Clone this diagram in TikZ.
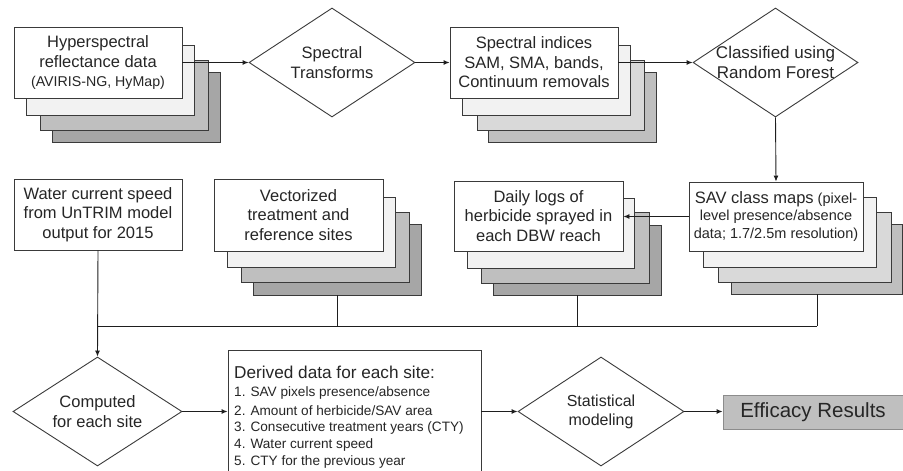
\documentclass[tikz,border=0pt]{standalone}
\usepackage{fontspec}
\setmainfont{Liberation Sans}
\usetikzlibrary{shapes.geometric,arrows.meta}
\definecolor{bordc}{HTML}{3A3A3A}
\definecolor{linec}{HTML}{1E1E1E}
\definecolor{txtc}{HTML}{262626}
\definecolor{gA}{HTML}{F2F2F2}
\definecolor{gB}{HTML}{BFBFBF}
\definecolor{gC}{HTML}{A6A6A6}
\definecolor{gD}{HTML}{D9D9D9}
\definecolor{effb}{HTML}{8C8C8C}
\newcommand\fmain{\fontsize{16.5}{19.5}\selectfont}
\newcommand\fsmall{\fontsize{14.2}{19.5}\selectfont}
\begin{document}
\begin{tikzpicture}[x=1pt,y=-1pt,
  layer/.style={draw=bordc,line width=0.9pt},
  box/.style={draw=bordc,fill=white,line width=0.9pt,inner sep=0pt,align=center,text=txtc,font=\fmain},
  dia/.style={draw=bordc,fill=white,line width=0.9pt,diamond,inner sep=0pt,minimum width=166pt,minimum height=109pt},
  lbl/.style={align=center,text=txtc,font=\fmain,inner sep=0pt},
  conn/.style={draw=linec,line width=0.9pt},
  arr/.style={conn,-{Latex[length=6pt,width=5pt]}}]
\useasboundingbox (0,0) rectangle (903,471);
\clip (0,0) rectangle (903,471);

% stack 1: hyperspectral
\draw[layer,fill=gC] (52,72) rectangle (220,142);
\draw[layer,fill=gB] (40,60) rectangle (208,130);
\draw[layer,fill=gA] (26,45) rectangle (194,115);
\node[box,minimum width=168pt,minimum height=71pt] (hyp) at (98,62.5)
  {Hyperspectral\\reflectance data\\{\fsmall(AVIRIS-NG, HyMap)}};

% diamond 1
\node[dia] (tr) at (332,62.5) {};
\node[lbl] (trl) at (tr) {Spectral\\Transforms};

% stack 2: spectral indices
\draw[layer,fill=gB] (488,72) rectangle (656,142);
\draw[layer,fill=gD] (477,60) rectangle (644,130);
\draw[layer,fill=gA] (462,45) rectangle (630,115);
\node[box,minimum width=168pt,minimum height=71pt] (spi) at (534,62.5)
  {Spectral indices\\SAM, SMA, bands,\\Continuum removals};

% diamond 2
\node[dia,minimum width=165pt] (rf) at (775.5,62.5) {};
\node[lbl,font=\fontsize{17}{19.5}\selectfont] (rfl) at (rf) {Classified using\\Random Forest};

% water current
\node[box,minimum width=168pt,minimum height=71pt] (wat) at (98,214.5)
  {Water current speed\\from UnTRIM model\\output for 2015};

% vectorized stack
\draw[layer,fill=gC] (253,224) rectangle (421,295);
\draw[layer,fill=gB] (241,212) rectangle (409,282);
\draw[layer,fill=gA] (227,197) rectangle (395,267);
\node[box,minimum width=169pt,minimum height=72pt] (vec) at (298.5,215)
  {Vectorized\\treatment and\\reference sites};
\coordinate (vecb) at (337,295);

% daily logs stack
\draw[layer,fill=gC] (493,225) rectangle (661,295);
\draw[layer,fill=gB] (481,212) rectangle (649,283);
\draw[layer,fill=gA] (467,198) rectangle (634,268);
\node[box,minimum width=169pt,minimum height=70pt] (day) at (538.5,216)
  {Daily logs of\\herbicide sprayed in\\each DBW reach};
\coordinate (dayb) at (577,295);

% SAV stack
\draw[layer,fill=gB] (731,224) rectangle (902,294);
\draw[layer,fill=gD] (718,212) rectangle (891,282);
\draw[layer,fill=gA] (703,197) rectangle (876,267);
\node[box,minimum width=174pt,minimum height=69pt,font=\fontsize{14.5}{17.5}\selectfont] (sav) at (776,216.5)
  {{\fmain SAV class maps} (pixel-\\level presence/absence\\data; 1.7/2.5m resolution)};
\coordinate (savb) at (817,294);

% computed diamond
\node[dia,minimum width=169pt] (cmp) at (97.5,411.5) {};
\node[lbl] (cmpl) at (cmp) {Computed\\for each site};

% derived data box
\node[draw=bordc,fill=white,line width=0.9pt,inner sep=0pt,minimum width=253pt,minimum height=150pt] (der) at (354.5,425) {};
\node[anchor=west,inner sep=0pt,text=txtc,font=\fontsize{17.2}{19}\selectfont] (h0) at (234,372) {Derived data for each site:};
\begin{scope}[every node/.style={anchor=west,inner sep=0pt,text=txtc,font=\fontsize{13.6}{16}\selectfont}]
\node (i1) at (234,393) {1. SAV pixels presence/absence};
\node (i2) at (234,410.5) {2. Amount of herbicide/SAV area};
\node (i3) at (234,427.5) {3. Consecutive treatment years (CTY)};
\node (i4) at (234,444.5) {4. Water current speed};
\node (i5) at (234,462) {5. CTY for the previous year};
\end{scope}

% statistical modeling
\node[dia] (sta) at (601,411.5) {};
\node[lbl,font=\fontsize{16}{19}\selectfont] (stal) at (sta) {Statistical\\modeling};

% efficacy results
\node[draw=effb,fill=gB,line width=0.9pt,inner sep=0pt,minimum width=180pt,minimum height=34pt,text=txtc,font=\fontsize{20.5}{24}\selectfont] (eff) at (813,412) {Efficacy Results};

% connectors
\draw[arr] (hyp.east) -- (tr.west);
\draw[arr] (tr.east) -- (spi.west);
\draw[arr] (spi.east) -- (rf.west);
\draw[arr] (rf.south) -- (sav.north);
\draw[arr] (sav.west) -- (sav.west -| day.east);
\coordinate (busL) at (97,326);
\coordinate (busR) at (817,326);
\draw[conn] (busL) -- (busR);
\draw[conn] (vecb) -- (vecb |- busL);
\draw[conn] (dayb) -- (dayb |- busL);
\draw[conn] (savb) -- (savb |- busL);
\draw[arr] (wat.south) -- (cmp.north);
\draw[arr] (cmp.east) -- (cmp.east -| der.west);
\draw[arr] (sta.west -| der.east) -- (sta.west);
\draw[arr] (sta.east) -- (sta.east -| eff.west);
\end{tikzpicture}
\end{document}
